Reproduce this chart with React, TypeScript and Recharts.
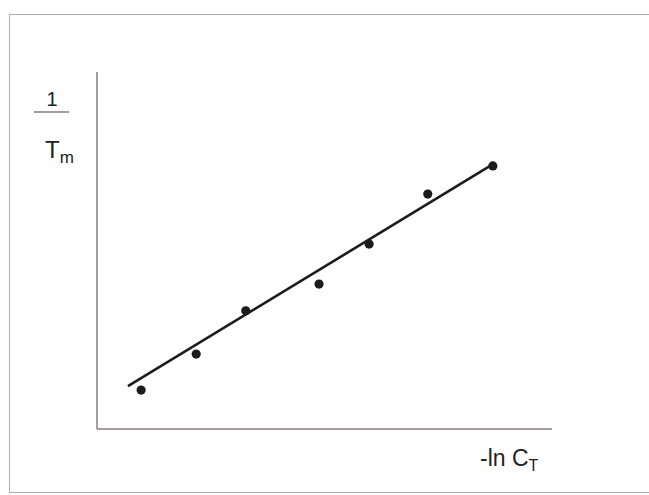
import { ComposedChart, Scatter, Line, XAxis, YAxis } from 'recharts';

// measured points, x = -ln CT, y = 1/Tm (arbitrary units, 0-100)
const xValues = [9.7, 21.8, 32.7, 48.8, 59.8, 72.7, 87.0];
const yValues = [10.9, 21.0, 33.1, 40.6, 51.8, 65.8, 73.7];

// least squares line endpoints as drawn
const fitX = [6.8, 86.4];
const fitY = [12.0, 73.7];

const points = xValues.map((x, i) => ({ x, y: yValues[i] }));
const fitLine = fitX.map((x, i) => ({ x, y: fitY[i] }));

const axisColor = '#8a7880';
const inkColor = '#1c1c1c';
const font = '"Liberation Sans", Arial, sans-serif';

const Dot = (props: any) => {
  const { cx, cy } = props;
  return <circle cx={cx} cy={cy} r={4.6} fill={inkColor} />;
};

export default function App() {
  return (
    <div
      style={{
        position: 'fixed',
        top: 0,
        left: 0,
        width: 649,
        height: 495,
        overflow: 'hidden',
        background: '#fff',
        fontFamily: font,
      }}
    >
      {/* outer frame, open on the right */}
      <div
        style={{
          position: 'absolute',
          left: 9,
          top: 14,
          width: 700,
          height: 479,
          borderLeft: '1.5px solid #b7a8b0',
          borderTop: '1.5px solid #b7a8b0',
          borderBottom: '1.5px solid #b7a8b0',
          boxSizing: 'border-box',
        }}
      />
      <div style={{ position: 'absolute', left: 0, top: 0 }}>
        <ComposedChart
          width={649}
          height={495}
          margin={{ top: 72, left: 96, right: 97, bottom: 65 }}
        >
          <XAxis
            type="number"
            dataKey="x"
            domain={[0, 100]}
            height={1}
            tick={false}
            tickLine={false}
            axisLine={{ stroke: axisColor, strokeWidth: 1.5 }}
          />
          <YAxis
            type="number"
            dataKey="y"
            domain={[0, 100]}
            width={1}
            tick={false}
            tickLine={false}
            axisLine={{ stroke: axisColor, strokeWidth: 1.5 }}
          />
          <Line
            data={fitLine}
            dataKey="y"
            type="linear"
            stroke={inkColor}
            strokeWidth={2.6}
            dot={false}
            activeDot={false}
            isAnimationActive={false}
          />
          <Scatter
            data={points}
            dataKey="y"
            shape={<Dot />}
            isAnimationActive={false}
          />
          <text x={52} y={106} textAnchor="middle" fontSize={20} fill="#222" fontFamily={font}>
            1
          </text>
          <line x1={34} y1={112} x2={69} y2={112} stroke={axisColor} strokeWidth={1.5} />
          <text x={45} y={158} fontSize={24} fill="#222" fontFamily={font}>
            T
            <tspan fontSize={17} dy={5}>
              m
            </tspan>
          </text>
          <text x={480} y={466} fontSize={23} fill="#222" fontFamily={font}>
            -ln C
            <tspan fontSize={16} dy={5}>
              T
            </tspan>
          </text>
        </ComposedChart>
      </div>
    </div>
  );
}
